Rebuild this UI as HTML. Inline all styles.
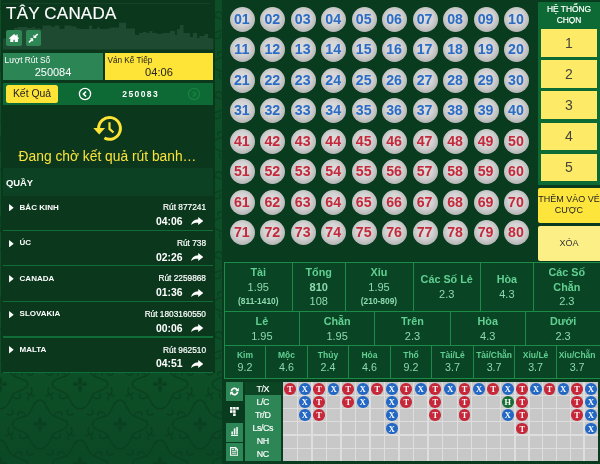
<!DOCTYPE html>
<html><head><meta charset="utf-8"><title>TÂY CANADA</title>
<style>
*{box-sizing:border-box;margin:0;padding:0}
html,body{width:600px;height:464px;overflow:hidden}
body{position:relative;background:#10502a;font-family:"Liberation Sans",Arial,sans-serif;color:#fff}
.abs,.abs *{position:absolute}
#bg{left:0;top:0;width:600px;height:464px;background:linear-gradient(180deg,#0d4e27 0%,#0d4f27 80%,#0b4824 100%)}
#lp{left:1px;top:0;width:213.7px;height:373.4px;background:#0b381d}
#rp{left:222px;top:0;width:378px;height:464px;background:#093b1e}
.t{white-space:nowrap;line-height:1}
.ball{width:25px;height:25px;border-radius:50%;background:radial-gradient(circle at 48% 44%,#dedede 0%,#d3d3d3 40%,#b6b6b6 72%,#999 92%,#8a8a8a 100%);font-weight:bold;font-size:14.2px;text-align:center;line-height:25.2px;letter-spacing:0;text-indent:-1px}
.bl{color:#2a6cc6}.rd{color:#c42a3c}
.yb{background:#fde962;color:#3a3a2a;text-align:center}
.cell{border:1px solid #1d8a48;background:#094524;text-align:center;overflow:hidden}
.cell .t{left:0;width:100%;text-align:center}
.lab{color:#62cf92;font-weight:bold}
.val{color:#8ed9ae}.b{font-weight:bold}
</style></head><body>
<div id="bg" class="abs"></div>
<svg class="abs" style="left:0;top:0;filter:blur(0.4px)" width="600" height="464"><defs><pattern id="dm" width="80" height="80" patternUnits="userSpaceOnUse" x="0" y="64"><g transform="translate(0,0)" fill="none" stroke="#0a3f20" stroke-width="1.6" stroke-linecap="round"><path d="M0-24C7-24 6-12 14-8S30-4 27 2S14 6 12 12S6 25 0 25S-9 18-12 12S-24 8-27 2S-20-6-14-8S-7-24 0-24"/><path d="M-6-28c-4-3-8 1-5 4M6-28c4-3 8 1 5 4M-31 4c-3 4 1 8 4 5M31 4c3 4-1 8-4 5M-7 30c-4 3-8-1-5-4M7 30c4 3 8-1 5-4"/><path d="M14-8c3-6 9-5 8-1M-14-8c-3-6-9-5-8-1M12 12c5 5 10 2 8-2M-12 12c-5 5-10 2-8-2"/><path fill="#0a3f20" stroke="none" d="M0-8C3-4 3-1 0 1.500C-3-1-3-4 0-8zM-1 .5C-5-4-8-1.500-6.500 1.500C-4 3-2.500 2-1 .5zM1 .5C5-4 8-1.500 6.500 1.500C4 3 2.500 2 1 .5zM-1 1.500h2l1.800 3.500l-2 1l.700 2.500h-3l.700-2.500l-2-1z"/></g><g transform="translate(80,0)" fill="none" stroke="#0a3f20" stroke-width="1.6" stroke-linecap="round"><path d="M0-24C7-24 6-12 14-8S30-4 27 2S14 6 12 12S6 25 0 25S-9 18-12 12S-24 8-27 2S-20-6-14-8S-7-24 0-24"/><path d="M-6-28c-4-3-8 1-5 4M6-28c4-3 8 1 5 4M-31 4c-3 4 1 8 4 5M31 4c3 4-1 8-4 5M-7 30c-4 3-8-1-5-4M7 30c4 3 8-1 5-4"/><path d="M14-8c3-6 9-5 8-1M-14-8c-3-6-9-5-8-1M12 12c5 5 10 2 8-2M-12 12c-5 5-10 2-8-2"/><path fill="#0a3f20" stroke="none" d="M0-8C3-4 3-1 0 1.500C-3-1-3-4 0-8zM-1 .5C-5-4-8-1.500-6.500 1.500C-4 3-2.500 2-1 .5zM1 .5C5-4 8-1.500 6.500 1.500C4 3 2.500 2 1 .5zM-1 1.500h2l1.800 3.500l-2 1l.700 2.500h-3l.700-2.500l-2-1z"/></g><g transform="translate(0,80)" fill="none" stroke="#0a3f20" stroke-width="1.6" stroke-linecap="round"><path d="M0-24C7-24 6-12 14-8S30-4 27 2S14 6 12 12S6 25 0 25S-9 18-12 12S-24 8-27 2S-20-6-14-8S-7-24 0-24"/><path d="M-6-28c-4-3-8 1-5 4M6-28c4-3 8 1 5 4M-31 4c-3 4 1 8 4 5M31 4c3 4-1 8-4 5M-7 30c-4 3-8-1-5-4M7 30c4 3 8-1 5-4"/><path d="M14-8c3-6 9-5 8-1M-14-8c-3-6-9-5-8-1M12 12c5 5 10 2 8-2M-12 12c-5 5-10 2-8-2"/><path fill="#0a3f20" stroke="none" d="M0-8C3-4 3-1 0 1.500C-3-1-3-4 0-8zM-1 .5C-5-4-8-1.500-6.500 1.500C-4 3-2.500 2-1 .5zM1 .5C5-4 8-1.500 6.500 1.500C4 3 2.500 2 1 .5zM-1 1.500h2l1.800 3.500l-2 1l.700 2.500h-3l.700-2.500l-2-1z"/></g><g transform="translate(80,80)" fill="none" stroke="#0a3f20" stroke-width="1.6" stroke-linecap="round"><path d="M0-24C7-24 6-12 14-8S30-4 27 2S14 6 12 12S6 25 0 25S-9 18-12 12S-24 8-27 2S-20-6-14-8S-7-24 0-24"/><path d="M-6-28c-4-3-8 1-5 4M6-28c4-3 8 1 5 4M-31 4c-3 4 1 8 4 5M31 4c3 4-1 8-4 5M-7 30c-4 3-8-1-5-4M7 30c4 3 8-1 5-4"/><path d="M14-8c3-6 9-5 8-1M-14-8c-3-6-9-5-8-1M12 12c5 5 10 2 8-2M-12 12c-5 5-10 2-8-2"/><path fill="#0a3f20" stroke="none" d="M0-8C3-4 3-1 0 1.500C-3-1-3-4 0-8zM-1 .5C-5-4-8-1.500-6.500 1.500C-4 3-2.500 2-1 .5zM1 .5C5-4 8-1.500 6.500 1.500C4 3 2.500 2 1 .5zM-1 1.500h2l1.800 3.500l-2 1l.700 2.500h-3l.700-2.500l-2-1z"/></g><g transform="translate(40,40)" fill="none" stroke="#0a3f20" stroke-width="1.6" stroke-linecap="round"><path d="M0-24C7-24 6-12 14-8S30-4 27 2S14 6 12 12S6 25 0 25S-9 18-12 12S-24 8-27 2S-20-6-14-8S-7-24 0-24"/><path d="M-6-28c-4-3-8 1-5 4M6-28c4-3 8 1 5 4M-31 4c-3 4 1 8 4 5M31 4c3 4-1 8-4 5M-7 30c-4 3-8-1-5-4M7 30c4 3 8-1 5-4"/><path d="M14-8c3-6 9-5 8-1M-14-8c-3-6-9-5-8-1M12 12c5 5 10 2 8-2M-12 12c-5 5-10 2-8-2"/><path fill="#0a3f20" stroke="none" d="M0-8C3-4 3-1 0 1.500C-3-1-3-4 0-8zM-1 .5C-5-4-8-1.500-6.500 1.500C-4 3-2.500 2-1 .5zM1 .5C5-4 8-1.500 6.500 1.500C4 3 2.500 2 1 .5zM-1 1.500h2l1.800 3.500l-2 1l.700 2.500h-3l.700-2.500l-2-1z"/></g></pattern></defs><rect x="0" y="0" width="600" height="464" fill="url(#dm)" opacity="0.85"/></svg>
<div id="lp" class="abs"></div>
<div id="rp" class="abs"></div>
<div class="abs" id="all" style="left:0;top:0;width:600px;height:464px;filter:blur(0.35px)">

<div class="t" style="left:6.1px;top:5px;font-size:17px;letter-spacing:0.2px;color:#fff;-webkit-text-stroke:0.15px #fff">TÂY CANADA</div>
<svg style="left:0;top:0;filter:blur(0.5px)" width="216" height="52" viewBox="0 0 216 52"><path fill="#1e4a31" d="M3 49.5V38.5H14V28H17.5V27H21.5V27H24.0V27H27.5V28H32.5V27H35.0V28.5H39.0V28H40.0V29H42.5V25.5H46.5V25.5H51.5V27H54.5V25.5H59.5V29H64.5V25.5H68.5V25.5H71.5V26.5H76.5V28.5H80.0V29H83.0V29H85.5V29H89.0V25.5H92.0V29H97.0V27.5H100.0V29H102.5V29H105.0V29H107.5V28.5H110.0V27.5H119.0V22.7H126.0V28.5H135.0V35H139.0V33H143.0V32H146.5V33H149.5V31H152.5V33H157.5V34H162.5V33H166.0V33H170.0V31H175.0V35H177.0V29H180.0V25H183.5V33H190.0V37H193.0V33H197.0V38H199.5V36H204.5V34H208.0V38H211.0V38.5H213.3V49.5z"/></svg>
<div style="left:3px;top:3.2px;width:207px;height:1px;background:#13442a"></div>
<div style="left:6.05px;top:30.4px;width:15.95px;height:15.4px;background:#2d8654;border-radius:1.8px"></div>
<div style="left:25.6px;top:30.4px;width:15.8px;height:15.4px;background:#2d8654;border-radius:1.8px"></div>
<svg style="left:8.7px;top:33.7px" width="10.2" height="8.4" viewBox="0 0 10.2 8.4"><path fill="#fff" d="M5.1 0L0 4.300l.5.600.8-.6V8.300h3.100V5.700h1.400v2.600h3.100V4.300l.8.600.5-.6L8.700 3V.5H7.400v1.400z"/></svg>
<svg style="left:28px;top:33px" width="11" height="11" viewBox="0 0 11 11"><g fill="#fff" stroke="none"><path d="M5.45 5.05V1.7l3.350 3.350z"/><path d="M5.15 5.35H1.800l3.350 3.350z"/></g><g stroke="#fff" stroke-width="1.6" fill="none"><path d="M6.900 3.600L9.700 1"/><path d="M3.700 6.800L.900 9.300"/></g></svg>
<div style="left:3px;top:53px;width:100px;height:26.5px;background:#2c8555"></div>
<div class="t" style="left:4.6px;top:56.3px;font-size:8.3px;color:#fff">Lượt Rút Số</div>
<div class="t" style="left:3px;top:66.9px;width:100px;text-align:center;font-size:11px;color:#fff">250084</div>
<div style="left:105px;top:53px;width:108px;height:26.5px;background:#fde436"></div>
<div class="t" style="left:107.4px;top:56.5px;font-size:8.25px;color:#222">Ván Kế Tiếp</div>
<div class="t" style="left:105px;top:66.9px;width:108px;text-align:center;font-size:11.1px;color:#222">04:06</div>
<div style="left:3px;top:83px;width:210.3px;height:22px;background:#0d6a34"></div>
<div style="left:6px;top:85.3px;width:52px;height:17.9px;background:#fde436;border-radius:2.5px"></div>
<div class="t" style="left:6px;top:89.2px;width:52px;text-align:center;font-size:10.4px;color:#222">Kết Quả</div>
<svg style="left:78.2px;top:87px" width="14" height="14" viewBox="0 0 14 14"><circle cx="7" cy="7" r="5.6" fill="none" stroke="#fff" stroke-width="1.3"/><path d="M8 4.500L5.500 7l2.500 2.500" fill="none" stroke="#fff" stroke-width="1.7"/></svg>
<svg style="left:187px;top:87px" width="14" height="14" viewBox="0 0 14 14"><circle cx="7" cy="7" r="5.6" fill="none" stroke="#19813f" stroke-width="1.3"/><path d="M6 4.500L8.500 7l-2.500 2.500" fill="none" stroke="#19813f" stroke-width="1.7"/></svg>
<div class="t" style="left:102.7px;top:89.8px;width:76px;text-align:center;font-size:8.5px;font-weight:bold;letter-spacing:1.4px;color:#fff">250083</div>
<svg style="left:90px;top:110px" width="40" height="36" viewBox="0 0 40 36"><g fill="none" stroke="#fde436"><path d="M8.60 18.40A10.9 10.9 0 1 1 14.38 28.02" stroke-width="3"/><path d="M19.5 12.2V18.9l4 3.6" stroke-width="2.2"/></g><path fill="#fde436" d="M3.3 17.9h11.8l-5.9 6.6z"/></svg>
<div class="t" style="left:2px;top:150.3px;width:211px;text-align:center;font-size:13.8px;color:#fbe23a">Đang chờ kết quả rút banh…</div>
<div style="left:3px;top:167.7px;width:210.3px;height:28.4px;background:#0c4223"></div>
<div class="t" style="left:6px;top:178.4px;font-size:9.4px;font-weight:bold;color:#fff">QUẦY</div>
<div style="left:3px;top:229.6px;width:210.3px;height:1.2px;background:#0f6e38"></div>
<svg style="left:9.1px;top:204.0px" width="4.8" height="7.4" viewBox="0 0 5 8"><path fill="#fff" d="M0 0L5 4 0 8z"/></svg>
<div class="t" style="left:19.6px;top:203.6px;font-size:8px;font-weight:bold;color:#fff">BẮC KINH</div>
<div class="t" style="left:100px;top:203.2px;width:106px;text-align:right;font-size:8.3px;color:#fff;-webkit-text-stroke:0.2px #fff">Rút 877241</div>
<div class="t" style="left:100px;top:216.9px;width:82.6px;text-align:right;font-size:10.4px;font-weight:bold;color:#fff">04:06</div>
<svg style="left:191px;top:217.3px" width="12.4" height="8.2" viewBox="0 0 12.4 8.2"><path fill="#fff" d="M7.2 0l5.2 4-5.2 4V5.7C4.2 5.6 1.8 6.2 0 8.1c.6-3.3 3-5.5 7.2-5.8z"/></svg>
<div style="left:3px;top:265.2px;width:210.3px;height:1.2px;background:#0f6e38"></div>
<svg style="left:9.1px;top:239.6px" width="4.8" height="7.4" viewBox="0 0 5 8"><path fill="#fff" d="M0 0L5 4 0 8z"/></svg>
<div class="t" style="left:19.6px;top:239.2px;font-size:8px;font-weight:bold;color:#fff">ÚC</div>
<div class="t" style="left:100px;top:238.8px;width:106px;text-align:right;font-size:8.3px;color:#fff;-webkit-text-stroke:0.2px #fff">Rút 738</div>
<div class="t" style="left:100px;top:252.5px;width:82.6px;text-align:right;font-size:10.4px;font-weight:bold;color:#fff">02:26</div>
<svg style="left:191px;top:252.9px" width="12.4" height="8.2" viewBox="0 0 12.4 8.2"><path fill="#fff" d="M7.2 0l5.2 4-5.2 4V5.7C4.2 5.6 1.8 6.2 0 8.1c.6-3.3 3-5.5 7.2-5.8z"/></svg>
<div style="left:3px;top:300.8px;width:210.3px;height:1.2px;background:#0f6e38"></div>
<svg style="left:9.1px;top:275.2px" width="4.8" height="7.4" viewBox="0 0 5 8"><path fill="#fff" d="M0 0L5 4 0 8z"/></svg>
<div class="t" style="left:19.6px;top:274.8px;font-size:8px;font-weight:bold;color:#fff">CANADA</div>
<div class="t" style="left:100px;top:274.4px;width:106px;text-align:right;font-size:8.3px;color:#fff;-webkit-text-stroke:0.2px #fff">Rút 2259868</div>
<div class="t" style="left:100px;top:288.1px;width:82.6px;text-align:right;font-size:10.4px;font-weight:bold;color:#fff">01:36</div>
<svg style="left:191px;top:288.5px" width="12.4" height="8.2" viewBox="0 0 12.4 8.2"><path fill="#fff" d="M7.2 0l5.2 4-5.2 4V5.7C4.2 5.6 1.8 6.2 0 8.1c.6-3.3 3-5.5 7.2-5.8z"/></svg>
<div style="left:3px;top:336.4px;width:210.3px;height:1.2px;background:#0f6e38"></div>
<svg style="left:9.1px;top:310.8px" width="4.8" height="7.4" viewBox="0 0 5 8"><path fill="#fff" d="M0 0L5 4 0 8z"/></svg>
<div class="t" style="left:19.6px;top:310.4px;font-size:8px;font-weight:bold;color:#fff">SLOVAKIA</div>
<div class="t" style="left:100px;top:310.0px;width:106px;text-align:right;font-size:8.3px;color:#fff;-webkit-text-stroke:0.2px #fff">Rút 1803160550</div>
<div class="t" style="left:100px;top:323.7px;width:82.6px;text-align:right;font-size:10.4px;font-weight:bold;color:#fff">00:06</div>
<svg style="left:191px;top:324.1px" width="12.4" height="8.2" viewBox="0 0 12.4 8.2"><path fill="#fff" d="M7.2 0l5.2 4-5.2 4V5.7C4.2 5.6 1.8 6.2 0 8.1c.6-3.3 3-5.5 7.2-5.8z"/></svg>
<div style="left:3px;top:372.0px;width:210.3px;height:1.2px;background:#0f6e38"></div>
<svg style="left:9.1px;top:346.4px" width="4.8" height="7.4" viewBox="0 0 5 8"><path fill="#fff" d="M0 0L5 4 0 8z"/></svg>
<div class="t" style="left:19.6px;top:346.0px;font-size:8px;font-weight:bold;color:#fff">MALTA</div>
<div class="t" style="left:100px;top:345.6px;width:106px;text-align:right;font-size:8.3px;color:#fff;-webkit-text-stroke:0.2px #fff">Rút 962510</div>
<div class="t" style="left:100px;top:359.3px;width:82.6px;text-align:right;font-size:10.4px;font-weight:bold;color:#fff">04:51</div>
<svg style="left:191px;top:359.7px" width="12.4" height="8.2" viewBox="0 0 12.4 8.2"><path fill="#fff" d="M7.2 0l5.2 4-5.2 4V5.7C4.2 5.6 1.8 6.2 0 8.1c.6-3.3 3-5.5 7.2-5.8z"/></svg>
<div class="ball bl" style="left:229.8px;top:6.7px">01</div>
<div class="ball bl" style="left:260.3px;top:6.7px">02</div>
<div class="ball bl" style="left:290.7px;top:6.7px">03</div>
<div class="ball bl" style="left:321.2px;top:6.7px">04</div>
<div class="ball bl" style="left:351.7px;top:6.7px">05</div>
<div class="ball bl" style="left:382.1px;top:6.7px">06</div>
<div class="ball bl" style="left:412.6px;top:6.7px">07</div>
<div class="ball bl" style="left:443.1px;top:6.7px">08</div>
<div class="ball bl" style="left:473.6px;top:6.7px">09</div>
<div class="ball bl" style="left:504.0px;top:6.7px">10</div>
<div class="ball bl" style="left:229.8px;top:37.2px">11</div>
<div class="ball bl" style="left:260.3px;top:37.2px">12</div>
<div class="ball bl" style="left:290.7px;top:37.2px">13</div>
<div class="ball bl" style="left:321.2px;top:37.2px">14</div>
<div class="ball bl" style="left:351.7px;top:37.2px">15</div>
<div class="ball bl" style="left:382.1px;top:37.2px">16</div>
<div class="ball bl" style="left:412.6px;top:37.2px">17</div>
<div class="ball bl" style="left:443.1px;top:37.2px">18</div>
<div class="ball bl" style="left:473.6px;top:37.2px">19</div>
<div class="ball bl" style="left:504.0px;top:37.2px">20</div>
<div class="ball bl" style="left:229.8px;top:67.7px">21</div>
<div class="ball bl" style="left:260.3px;top:67.7px">22</div>
<div class="ball bl" style="left:290.7px;top:67.7px">23</div>
<div class="ball bl" style="left:321.2px;top:67.7px">24</div>
<div class="ball bl" style="left:351.7px;top:67.7px">25</div>
<div class="ball bl" style="left:382.1px;top:67.7px">26</div>
<div class="ball bl" style="left:412.6px;top:67.7px">27</div>
<div class="ball bl" style="left:443.1px;top:67.7px">28</div>
<div class="ball bl" style="left:473.6px;top:67.7px">29</div>
<div class="ball bl" style="left:504.0px;top:67.7px">30</div>
<div class="ball bl" style="left:229.8px;top:98.2px">31</div>
<div class="ball bl" style="left:260.3px;top:98.2px">32</div>
<div class="ball bl" style="left:290.7px;top:98.2px">33</div>
<div class="ball bl" style="left:321.2px;top:98.2px">34</div>
<div class="ball bl" style="left:351.7px;top:98.2px">35</div>
<div class="ball bl" style="left:382.1px;top:98.2px">36</div>
<div class="ball bl" style="left:412.6px;top:98.2px">37</div>
<div class="ball bl" style="left:443.1px;top:98.2px">38</div>
<div class="ball bl" style="left:473.6px;top:98.2px">39</div>
<div class="ball bl" style="left:504.0px;top:98.2px">40</div>
<div class="ball rd" style="left:229.8px;top:128.7px">41</div>
<div class="ball rd" style="left:260.3px;top:128.7px">42</div>
<div class="ball rd" style="left:290.7px;top:128.7px">43</div>
<div class="ball rd" style="left:321.2px;top:128.7px">44</div>
<div class="ball rd" style="left:351.7px;top:128.7px">45</div>
<div class="ball rd" style="left:382.1px;top:128.7px">46</div>
<div class="ball rd" style="left:412.6px;top:128.7px">47</div>
<div class="ball rd" style="left:443.1px;top:128.7px">48</div>
<div class="ball rd" style="left:473.6px;top:128.7px">49</div>
<div class="ball rd" style="left:504.0px;top:128.7px">50</div>
<div class="ball rd" style="left:229.8px;top:159.2px">51</div>
<div class="ball rd" style="left:260.3px;top:159.2px">52</div>
<div class="ball rd" style="left:290.7px;top:159.2px">53</div>
<div class="ball rd" style="left:321.2px;top:159.2px">54</div>
<div class="ball rd" style="left:351.7px;top:159.2px">55</div>
<div class="ball rd" style="left:382.1px;top:159.2px">56</div>
<div class="ball rd" style="left:412.6px;top:159.2px">57</div>
<div class="ball rd" style="left:443.1px;top:159.2px">58</div>
<div class="ball rd" style="left:473.6px;top:159.2px">59</div>
<div class="ball rd" style="left:504.0px;top:159.2px">60</div>
<div class="ball rd" style="left:229.8px;top:189.7px">61</div>
<div class="ball rd" style="left:260.3px;top:189.7px">62</div>
<div class="ball rd" style="left:290.7px;top:189.7px">63</div>
<div class="ball rd" style="left:321.2px;top:189.7px">64</div>
<div class="ball rd" style="left:351.7px;top:189.7px">65</div>
<div class="ball rd" style="left:382.1px;top:189.7px">66</div>
<div class="ball rd" style="left:412.6px;top:189.7px">67</div>
<div class="ball rd" style="left:443.1px;top:189.7px">68</div>
<div class="ball rd" style="left:473.6px;top:189.7px">69</div>
<div class="ball rd" style="left:504.0px;top:189.7px">70</div>
<div class="ball rd" style="left:229.8px;top:220.2px">71</div>
<div class="ball rd" style="left:260.3px;top:220.2px">72</div>
<div class="ball rd" style="left:290.7px;top:220.2px">73</div>
<div class="ball rd" style="left:321.2px;top:220.2px">74</div>
<div class="ball rd" style="left:351.7px;top:220.2px">75</div>
<div class="ball rd" style="left:382.1px;top:220.2px">76</div>
<div class="ball rd" style="left:412.6px;top:220.2px">77</div>
<div class="ball rd" style="left:443.1px;top:220.2px">78</div>
<div class="ball rd" style="left:473.6px;top:220.2px">79</div>
<div class="ball rd" style="left:504.0px;top:220.2px">80</div>
<div style="left:538px;top:1.5px;width:72px;height:183.5px;background:#0d6a35"></div>
<div class="t" style="left:538px;top:5.3px;width:62px;text-align:center;font-size:8.4px;color:#fff;-webkit-text-stroke:0.2px #fff">HỆ THỐNG</div>
<div class="t" style="left:538px;top:15.8px;width:62px;text-align:center;font-size:8.4px;color:#fff;-webkit-text-stroke:0.2px #fff">CHỌN</div>
<div class="yb" style="left:540.8px;top:29.2px;width:56.4px;height:27.5px;background:#fdea66"></div>
<div class="t" style="left:540.8px;top:35.8px;width:56.4px;text-align:center;font-size:14px;color:#45453a">1</div>
<div class="yb" style="left:540.8px;top:60.3px;width:56.4px;height:27.5px;background:#fdea66"></div>
<div class="t" style="left:540.8px;top:66.9px;width:56.4px;text-align:center;font-size:14px;color:#45453a">2</div>
<div class="yb" style="left:540.8px;top:91.4px;width:56.4px;height:27.5px;background:#fdea66"></div>
<div class="t" style="left:540.8px;top:98.0px;width:56.4px;text-align:center;font-size:14px;color:#45453a">3</div>
<div class="yb" style="left:540.8px;top:122.5px;width:56.4px;height:27.5px;background:#fdea66"></div>
<div class="t" style="left:540.8px;top:129.1px;width:56.4px;text-align:center;font-size:14px;color:#45453a">4</div>
<div class="yb" style="left:540.8px;top:153.6px;width:56.4px;height:27.5px;background:#fdea66"></div>
<div class="t" style="left:540.8px;top:160.2px;width:56.4px;text-align:center;font-size:14px;color:#45453a">5</div>
<div style="left:537.8px;top:188.2px;width:72px;height:35px;background:#fde53c;border-radius:2px 0 0 2px"></div>
<div class="t" style="left:533px;top:195.2px;width:72px;text-align:center;font-size:9px;color:#222">THÊM VÀO VÉ</div>
<div class="t" style="left:537.8px;top:205.9px;width:62.2px;text-align:center;font-size:9px;color:#222">CƯỢC</div>
<div style="left:537.8px;top:226.4px;width:72px;height:34.6px;background:#fbef86;border-radius:2px 0 0 2px"></div>
<div class="t" style="left:537.8px;top:238.6px;width:62.2px;text-align:center;font-size:9px;color:#333">XÓA</div>
<div class="cell" style="left:223.85px;top:262.15px;width:69.50px;height:49.90px;border-width:1.3px">
<div class="t lab" style="top:4.3px;width:66.90px;font-size:10.8px">Tài</div>
<div class="t val" style="top:18.7px;width:66.90px;font-size:11px">1.95</div>
<div class="t val b" style="top:33.5px;width:66.90px;font-size:8.4px">(811-1410)</div>
</div>
<div class="cell" style="left:292.05px;top:262.15px;width:53.90px;height:49.90px;border-width:1.3px">
<div class="t lab" style="top:4.3px;width:51.30px;font-size:10.8px">Tổng</div>
<div class="t val b" style="top:18.7px;width:51.30px;font-size:11px">810</div>
<div class="t val" style="top:32.7px;width:51.30px;font-size:11px">108</div>
</div>
<div class="cell" style="left:344.65px;top:262.15px;width:69.30px;height:49.90px;border-width:1.3px">
<div class="t lab" style="top:4.3px;width:66.70px;font-size:10.8px">Xỉu</div>
<div class="t val" style="top:18.7px;width:66.70px;font-size:11px">1.95</div>
<div class="t val b" style="top:33.5px;width:66.70px;font-size:8.4px">(210-809)</div>
</div>
<div class="cell" style="left:412.65px;top:262.15px;width:68.70px;height:49.90px;border-width:1.3px">
<div class="t lab" style="top:11.3px;width:66.10px;font-size:10.8px">Các Số Lẻ</div>
<div class="t val" style="top:25.7px;width:66.10px;font-size:11px">2.3</div>
</div>
<div class="cell" style="left:480.05px;top:262.15px;width:54.30px;height:49.90px;border-width:1.3px">
<div class="t lab" style="top:11.3px;width:51.70px;font-size:10.8px">Hòa</div>
<div class="t val" style="top:25.7px;width:51.70px;font-size:11px">4.3</div>
</div>
<div class="cell" style="left:533.05px;top:262.15px;width:76.20px;height:49.90px;border-width:1.3px">
<div class="t lab" style="top:4.3px;width:65.60px;font-size:10.8px">Các Số</div>
<div class="t lab" style="top:18.4px;width:65.60px;font-size:10.8px">Chẵn</div>
<div class="t val" style="top:32.7px;width:65.60px;font-size:11px">2.3</div>
</div>
<div class="cell" style="left:223.85px;top:310.75px;width:76.60px;height:35.80px;border-width:1.3px">
<div class="t lab" style="top:4.6px;width:74.00px;font-size:10.8px">Lẻ</div>
<div class="t val" style="top:19.5px;width:74.00px;font-size:11px">1.95</div>
</div>
<div class="cell" style="left:299.15px;top:310.75px;width:76.60px;height:35.80px;border-width:1.3px">
<div class="t lab" style="top:4.6px;width:74.00px;font-size:10.8px">Chẵn</div>
<div class="t val" style="top:19.5px;width:74.00px;font-size:11px">1.95</div>
</div>
<div class="cell" style="left:374.45px;top:310.75px;width:76.60px;height:35.80px;border-width:1.3px">
<div class="t lab" style="top:4.6px;width:74.00px;font-size:10.8px">Trên</div>
<div class="t val" style="top:19.5px;width:74.00px;font-size:11px">2.3</div>
</div>
<div class="cell" style="left:449.75px;top:310.75px;width:76.60px;height:35.80px;border-width:1.3px">
<div class="t lab" style="top:4.6px;width:74.00px;font-size:10.8px">Hòa</div>
<div class="t val" style="top:19.5px;width:74.00px;font-size:11px">4.3</div>
</div>
<div class="cell" style="left:525.05px;top:310.75px;width:84.60px;height:35.80px;border-width:1.3px">
<div class="t lab" style="top:4.6px;width:74.00px;font-size:10.8px">Dưới</div>
<div class="t val" style="top:19.5px;width:74.00px;font-size:11px">2.3</div>
</div>
<div class="cell" style="left:223.85px;top:345.25px;width:42.82px;height:33.90px;border-width:1.3px">
<div class="t lab" style="top:5.0px;width:40.22px;font-size:8.5px">Kim</div>
<div class="t val" style="top:15.8px;width:40.22px;font-size:10.7px">9.2</div>
</div>
<div class="cell" style="left:265.37px;top:345.25px;width:42.82px;height:33.90px;border-width:1.3px">
<div class="t lab" style="top:5.0px;width:40.22px;font-size:8.5px">Mộc</div>
<div class="t val" style="top:15.8px;width:40.22px;font-size:10.7px">4.6</div>
</div>
<div class="cell" style="left:306.89px;top:345.25px;width:42.82px;height:33.90px;border-width:1.3px">
<div class="t lab" style="top:5.0px;width:40.22px;font-size:8.5px">Thủy</div>
<div class="t val" style="top:15.8px;width:40.22px;font-size:10.7px">2.4</div>
</div>
<div class="cell" style="left:348.41px;top:345.25px;width:42.82px;height:33.90px;border-width:1.3px">
<div class="t lab" style="top:5.0px;width:40.22px;font-size:8.5px">Hỏa</div>
<div class="t val" style="top:15.8px;width:40.22px;font-size:10.7px">4.6</div>
</div>
<div class="cell" style="left:389.93px;top:345.25px;width:42.82px;height:33.90px;border-width:1.3px">
<div class="t lab" style="top:5.0px;width:40.22px;font-size:8.5px">Thổ</div>
<div class="t val" style="top:15.8px;width:40.22px;font-size:10.7px">9.2</div>
</div>
<div class="cell" style="left:431.45px;top:345.25px;width:42.82px;height:33.90px;border-width:1.3px">
<div class="t lab" style="top:5.0px;width:40.22px;font-size:8.5px">Tài/Lẻ</div>
<div class="t val" style="top:15.8px;width:40.22px;font-size:10.7px">3.7</div>
</div>
<div class="cell" style="left:472.97px;top:345.25px;width:42.82px;height:33.90px;border-width:1.3px">
<div class="t lab" style="top:5.0px;width:40.22px;font-size:8.5px">Tài/Chẵn</div>
<div class="t val" style="top:15.8px;width:40.22px;font-size:10.7px">3.7</div>
</div>
<div class="cell" style="left:514.49px;top:345.25px;width:42.82px;height:33.90px;border-width:1.3px">
<div class="t lab" style="top:5.0px;width:40.22px;font-size:8.5px">Xỉu/Lẻ</div>
<div class="t val" style="top:15.8px;width:40.22px;font-size:10.7px">3.7</div>
</div>
<div class="cell" style="left:556.01px;top:345.25px;width:50.82px;height:33.90px;border-width:1.3px">
<div class="t lab" style="top:5.0px;width:40.22px;font-size:8.5px">Xỉu/Chẵn</div>
<div class="t val" style="top:15.8px;width:40.22px;font-size:10.7px">3.7</div>
</div>
<div style="left:226.1px;top:382.4px;width:16.9px;height:19.0px;background:#2c8655"></div>
<div style="left:226.1px;top:401.4px;width:16.9px;height:21.2px;background:#093b1e"></div>
<div style="left:226.1px;top:422.6px;width:16.9px;height:19.6px;background:#2c8655"></div>
<div style="left:226.1px;top:442.7px;width:16.9px;height:18.7px;background:#2c8655"></div>
<svg style="left:229.8px;top:386.9px" width="9" height="9" viewBox="0 0 10 10"><g fill="none" stroke="#fff" stroke-width="1.9"><path d="M1.53 4.51A3.5 3.5 0 0 1 7.87 2.99"/><path d="M8.47 5.49A3.5 3.5 0 0 1 2.13 7.01"/></g><path fill="#fff" d="M9.800 .8v3.900H5.900zM.2 9.200V5.300h3.900z"/></svg>
<svg style="left:230px;top:406.8px" width="8.8" height="9.2" viewBox="0 0 9 9.4"><g fill="#fff"><rect x="0" y="0" width="2.6" height="2.7"/><rect x="3.2" y="0" width="2.6" height="2.7"/><rect x="6.4" y="0" width="2.6" height="2.7"/><rect x="0" y="3.3" width="2.6" height="2.7"/><rect x="3.2" y="3.3" width="2.6" height="2.7"/><rect x="3.2" y="6.6" width="2.6" height="2.7"/></g></svg>
<svg style="left:230.8px;top:426.8px" width="7.2" height="9.2" viewBox="0 0 7.2 9.2"><g fill="#fff"><rect x="0" y="8.1" width="7.2" height="1.1"/><rect x="0.4" y="4.400" width="1.5" height="3.200"/><rect x="2.8" y="1.400" width="1.6" height="6.200"/><rect x="5.3" y="0" width="1.5" height="7.600"/></g></svg>
<svg style="left:229.9px;top:447.1px" width="8.4" height="8.8" viewBox="0 0 8.4 8.8"><path fill="none" stroke="#fff" stroke-width="1.1" d="M.6.6h5l2.2 2.2v5.4H.6z"/><path fill="none" stroke="#fff" stroke-width=".9" d="M5.4.6v2.4h2.4"/><path stroke="#fff" stroke-width=".9" d="M2 2.4h2M2 4.3h4.4M2 6.2h4.4"/></svg>
<div style="left:245px;top:382.4px;width:35.9px;height:12.9px;background:#0b4524"></div>
<div style="left:245px;top:395.3px;width:35.9px;height:66.1px;background:#2c8655"></div>
<div class="t" style="left:245px;top:384.6px;width:35.9px;text-align:center;font-size:8.9px;letter-spacing:-0.4px;text-indent:-0.4px;color:#fff;-webkit-text-stroke:0.15px #fff">T/X</div>
<div class="t" style="left:245px;top:397.7px;width:35.9px;text-align:center;font-size:8.9px;letter-spacing:-0.4px;text-indent:-0.4px;color:#fff;-webkit-text-stroke:0.15px #fff">L/C</div>
<div class="t" style="left:245px;top:410.8px;width:35.9px;text-align:center;font-size:8.9px;letter-spacing:-0.4px;text-indent:-0.4px;color:#fff;-webkit-text-stroke:0.15px #fff">Tr/D</div>
<div class="t" style="left:245px;top:423.9px;width:35.9px;text-align:center;font-size:8.9px;letter-spacing:-0.4px;text-indent:-0.4px;color:#fff;-webkit-text-stroke:0.15px #fff">Ls/Cs</div>
<div class="t" style="left:245px;top:437.0px;width:35.9px;text-align:center;font-size:8.9px;letter-spacing:-0.4px;text-indent:-0.4px;color:#fff;-webkit-text-stroke:0.15px #fff">NH</div>
<div class="t" style="left:245px;top:450.1px;width:35.9px;text-align:center;font-size:8.9px;letter-spacing:-0.4px;text-indent:-0.4px;color:#fff;-webkit-text-stroke:0.15px #fff">NC</div>
<div style="left:283.1px;top:382.1px;width:315.2px;height:79.3px;background:#c8c8c8"></div>
<div style="left:296.70px;top:382.1px;width:1.3px;height:79.3px;background:#dedede"></div>
<div style="left:311.25px;top:382.1px;width:1.3px;height:79.3px;background:#dedede"></div>
<div style="left:325.73px;top:382.1px;width:1.3px;height:79.3px;background:#dedede"></div>
<div style="left:340.33px;top:382.1px;width:1.3px;height:79.3px;background:#dedede"></div>
<div style="left:354.85px;top:382.1px;width:1.3px;height:79.3px;background:#dedede"></div>
<div style="left:369.30px;top:382.1px;width:1.3px;height:79.3px;background:#dedede"></div>
<div style="left:383.80px;top:382.1px;width:1.3px;height:79.3px;background:#dedede"></div>
<div style="left:398.30px;top:382.1px;width:1.3px;height:79.3px;background:#dedede"></div>
<div style="left:412.85px;top:382.1px;width:1.3px;height:79.3px;background:#dedede"></div>
<div style="left:427.40px;top:382.1px;width:1.3px;height:79.3px;background:#dedede"></div>
<div style="left:442.10px;top:382.1px;width:1.3px;height:79.3px;background:#dedede"></div>
<div style="left:456.75px;top:382.1px;width:1.3px;height:79.3px;background:#dedede"></div>
<div style="left:471.15px;top:382.1px;width:1.3px;height:79.3px;background:#dedede"></div>
<div style="left:485.50px;top:382.1px;width:1.3px;height:79.3px;background:#dedede"></div>
<div style="left:499.90px;top:382.1px;width:1.3px;height:79.3px;background:#dedede"></div>
<div style="left:514.35px;top:382.1px;width:1.3px;height:79.3px;background:#dedede"></div>
<div style="left:528.40px;top:382.1px;width:1.3px;height:79.3px;background:#dedede"></div>
<div style="left:542.12px;top:382.1px;width:1.3px;height:79.3px;background:#dedede"></div>
<div style="left:555.85px;top:382.1px;width:1.3px;height:79.3px;background:#dedede"></div>
<div style="left:569.58px;top:382.1px;width:1.3px;height:79.3px;background:#dedede"></div>
<div style="left:583.45px;top:382.1px;width:1.3px;height:79.3px;background:#dedede"></div>
<div style="left:283.1px;top:394.67px;width:315.2px;height:1.3px;background:#dedede"></div>
<div style="left:283.1px;top:407.88px;width:315.2px;height:1.3px;background:#dedede"></div>
<div style="left:283.1px;top:421.10px;width:315.2px;height:1.3px;background:#dedede"></div>
<div style="left:283.1px;top:434.32px;width:315.2px;height:1.3px;background:#dedede"></div>
<div style="left:283.1px;top:447.53px;width:315.2px;height:1.3px;background:#dedede"></div>
<div class="t" style="left:284.15px;top:383.05px;width:11.7px;height:11.7px;border-radius:50%;background:#c6283a;color:#fff;font-family:'Liberation Serif',serif;font-weight:bold;font-size:8.3px;line-height:14.4px;text-align:center">T</div>
<div class="t" style="left:298.85px;top:383.05px;width:11.7px;height:11.7px;border-radius:50%;background:#2468c6;color:#fff;font-family:'Liberation Serif',serif;font-weight:bold;font-size:8.3px;line-height:14.4px;text-align:center">X</div>
<div class="t" style="left:298.85px;top:396.27px;width:11.7px;height:11.7px;border-radius:50%;background:#2468c6;color:#fff;font-family:'Liberation Serif',serif;font-weight:bold;font-size:8.3px;line-height:14.4px;text-align:center">X</div>
<div class="t" style="left:298.85px;top:409.48px;width:11.7px;height:11.7px;border-radius:50%;background:#2468c6;color:#fff;font-family:'Liberation Serif',serif;font-weight:bold;font-size:8.3px;line-height:14.4px;text-align:center">X</div>
<div class="t" style="left:313.25px;top:383.05px;width:11.7px;height:11.7px;border-radius:50%;background:#c6283a;color:#fff;font-family:'Liberation Serif',serif;font-weight:bold;font-size:8.3px;line-height:14.4px;text-align:center">T</div>
<div class="t" style="left:313.25px;top:396.27px;width:11.7px;height:11.7px;border-radius:50%;background:#c6283a;color:#fff;font-family:'Liberation Serif',serif;font-weight:bold;font-size:8.3px;line-height:14.4px;text-align:center">T</div>
<div class="t" style="left:313.25px;top:409.48px;width:11.7px;height:11.7px;border-radius:50%;background:#c6283a;color:#fff;font-family:'Liberation Serif',serif;font-weight:bold;font-size:8.3px;line-height:14.4px;text-align:center">T</div>
<div class="t" style="left:327.80px;top:383.05px;width:11.7px;height:11.7px;border-radius:50%;background:#2468c6;color:#fff;font-family:'Liberation Serif',serif;font-weight:bold;font-size:8.3px;line-height:14.4px;text-align:center">X</div>
<div class="t" style="left:342.45px;top:383.05px;width:11.7px;height:11.7px;border-radius:50%;background:#c6283a;color:#fff;font-family:'Liberation Serif',serif;font-weight:bold;font-size:8.3px;line-height:14.4px;text-align:center">T</div>
<div class="t" style="left:342.45px;top:396.27px;width:11.7px;height:11.7px;border-radius:50%;background:#c6283a;color:#fff;font-family:'Liberation Serif',serif;font-weight:bold;font-size:8.3px;line-height:14.4px;text-align:center">T</div>
<div class="t" style="left:356.85px;top:383.05px;width:11.7px;height:11.7px;border-radius:50%;background:#2468c6;color:#fff;font-family:'Liberation Serif',serif;font-weight:bold;font-size:8.3px;line-height:14.4px;text-align:center">X</div>
<div class="t" style="left:356.85px;top:396.27px;width:11.7px;height:11.7px;border-radius:50%;background:#2468c6;color:#fff;font-family:'Liberation Serif',serif;font-weight:bold;font-size:8.3px;line-height:14.4px;text-align:center">X</div>
<div class="t" style="left:371.35px;top:383.05px;width:11.7px;height:11.7px;border-radius:50%;background:#c6283a;color:#fff;font-family:'Liberation Serif',serif;font-weight:bold;font-size:8.3px;line-height:14.4px;text-align:center">T</div>
<div class="t" style="left:385.85px;top:383.05px;width:11.7px;height:11.7px;border-radius:50%;background:#2468c6;color:#fff;font-family:'Liberation Serif',serif;font-weight:bold;font-size:8.3px;line-height:14.4px;text-align:center">X</div>
<div class="t" style="left:385.85px;top:396.27px;width:11.7px;height:11.7px;border-radius:50%;background:#2468c6;color:#fff;font-family:'Liberation Serif',serif;font-weight:bold;font-size:8.3px;line-height:14.4px;text-align:center">X</div>
<div class="t" style="left:385.85px;top:409.48px;width:11.7px;height:11.7px;border-radius:50%;background:#2468c6;color:#fff;font-family:'Liberation Serif',serif;font-weight:bold;font-size:8.3px;line-height:14.4px;text-align:center">X</div>
<div class="t" style="left:385.85px;top:422.70px;width:11.7px;height:11.7px;border-radius:50%;background:#2468c6;color:#fff;font-family:'Liberation Serif',serif;font-weight:bold;font-size:8.3px;line-height:14.4px;text-align:center">X</div>
<div class="t" style="left:400.35px;top:383.05px;width:11.7px;height:11.7px;border-radius:50%;background:#c6283a;color:#fff;font-family:'Liberation Serif',serif;font-weight:bold;font-size:8.3px;line-height:14.4px;text-align:center">T</div>
<div class="t" style="left:400.35px;top:396.27px;width:11.7px;height:11.7px;border-radius:50%;background:#c6283a;color:#fff;font-family:'Liberation Serif',serif;font-weight:bold;font-size:8.3px;line-height:14.4px;text-align:center">T</div>
<div class="t" style="left:414.95px;top:383.05px;width:11.7px;height:11.7px;border-radius:50%;background:#2468c6;color:#fff;font-family:'Liberation Serif',serif;font-weight:bold;font-size:8.3px;line-height:14.4px;text-align:center">X</div>
<div class="t" style="left:429.45px;top:383.05px;width:11.7px;height:11.7px;border-radius:50%;background:#c6283a;color:#fff;font-family:'Liberation Serif',serif;font-weight:bold;font-size:8.3px;line-height:14.4px;text-align:center">T</div>
<div class="t" style="left:429.45px;top:396.27px;width:11.7px;height:11.7px;border-radius:50%;background:#c6283a;color:#fff;font-family:'Liberation Serif',serif;font-weight:bold;font-size:8.3px;line-height:14.4px;text-align:center">T</div>
<div class="t" style="left:429.45px;top:409.48px;width:11.7px;height:11.7px;border-radius:50%;background:#c6283a;color:#fff;font-family:'Liberation Serif',serif;font-weight:bold;font-size:8.3px;line-height:14.4px;text-align:center">T</div>
<div class="t" style="left:444.35px;top:383.05px;width:11.7px;height:11.7px;border-radius:50%;background:#2468c6;color:#fff;font-family:'Liberation Serif',serif;font-weight:bold;font-size:8.3px;line-height:14.4px;text-align:center">X</div>
<div class="t" style="left:458.75px;top:383.05px;width:11.7px;height:11.7px;border-radius:50%;background:#c6283a;color:#fff;font-family:'Liberation Serif',serif;font-weight:bold;font-size:8.3px;line-height:14.4px;text-align:center">T</div>
<div class="t" style="left:458.75px;top:396.27px;width:11.7px;height:11.7px;border-radius:50%;background:#c6283a;color:#fff;font-family:'Liberation Serif',serif;font-weight:bold;font-size:8.3px;line-height:14.4px;text-align:center">T</div>
<div class="t" style="left:458.75px;top:409.48px;width:11.7px;height:11.7px;border-radius:50%;background:#c6283a;color:#fff;font-family:'Liberation Serif',serif;font-weight:bold;font-size:8.3px;line-height:14.4px;text-align:center">T</div>
<div class="t" style="left:473.15px;top:383.05px;width:11.7px;height:11.7px;border-radius:50%;background:#2468c6;color:#fff;font-family:'Liberation Serif',serif;font-weight:bold;font-size:8.3px;line-height:14.4px;text-align:center">X</div>
<div class="t" style="left:487.45px;top:383.05px;width:11.7px;height:11.7px;border-radius:50%;background:#c6283a;color:#fff;font-family:'Liberation Serif',serif;font-weight:bold;font-size:8.3px;line-height:14.4px;text-align:center">T</div>
<div class="t" style="left:501.95px;top:383.05px;width:11.7px;height:11.7px;border-radius:50%;background:#2468c6;color:#fff;font-family:'Liberation Serif',serif;font-weight:bold;font-size:8.3px;line-height:14.4px;text-align:center">X</div>
<div class="t" style="left:501.95px;top:396.27px;width:11.7px;height:11.7px;border-radius:50%;background:#1a6e35;color:#fff;font-family:'Liberation Serif',serif;font-weight:bold;font-size:8.3px;line-height:14.4px;text-align:center">H</div>
<div class="t" style="left:501.95px;top:409.48px;width:11.7px;height:11.7px;border-radius:50%;background:#2468c6;color:#fff;font-family:'Liberation Serif',serif;font-weight:bold;font-size:8.3px;line-height:14.4px;text-align:center">X</div>
<div class="t" style="left:516.35px;top:383.05px;width:11.7px;height:11.7px;border-radius:50%;background:#c6283a;color:#fff;font-family:'Liberation Serif',serif;font-weight:bold;font-size:8.3px;line-height:14.4px;text-align:center">T</div>
<div class="t" style="left:516.35px;top:396.27px;width:11.7px;height:11.7px;border-radius:50%;background:#c6283a;color:#fff;font-family:'Liberation Serif',serif;font-weight:bold;font-size:8.3px;line-height:14.4px;text-align:center">T</div>
<div class="t" style="left:516.35px;top:409.48px;width:11.7px;height:11.7px;border-radius:50%;background:#c6283a;color:#fff;font-family:'Liberation Serif',serif;font-weight:bold;font-size:8.3px;line-height:14.4px;text-align:center">T</div>
<div class="t" style="left:516.35px;top:422.70px;width:11.7px;height:11.7px;border-radius:50%;background:#c6283a;color:#fff;font-family:'Liberation Serif',serif;font-weight:bold;font-size:8.3px;line-height:14.4px;text-align:center">T</div>
<div class="t" style="left:530.05px;top:383.05px;width:11.7px;height:11.7px;border-radius:50%;background:#2468c6;color:#fff;font-family:'Liberation Serif',serif;font-weight:bold;font-size:8.3px;line-height:14.4px;text-align:center">X</div>
<div class="t" style="left:543.80px;top:383.05px;width:11.7px;height:11.7px;border-radius:50%;background:#c6283a;color:#fff;font-family:'Liberation Serif',serif;font-weight:bold;font-size:8.3px;line-height:14.4px;text-align:center">T</div>
<div class="t" style="left:557.50px;top:383.05px;width:11.7px;height:11.7px;border-radius:50%;background:#2468c6;color:#fff;font-family:'Liberation Serif',serif;font-weight:bold;font-size:8.3px;line-height:14.4px;text-align:center">X</div>
<div class="t" style="left:571.25px;top:383.05px;width:11.7px;height:11.7px;border-radius:50%;background:#c6283a;color:#fff;font-family:'Liberation Serif',serif;font-weight:bold;font-size:8.3px;line-height:14.4px;text-align:center">T</div>
<div class="t" style="left:571.25px;top:396.27px;width:11.7px;height:11.7px;border-radius:50%;background:#c6283a;color:#fff;font-family:'Liberation Serif',serif;font-weight:bold;font-size:8.3px;line-height:14.4px;text-align:center">T</div>
<div class="t" style="left:571.25px;top:409.48px;width:11.7px;height:11.7px;border-radius:50%;background:#c6283a;color:#fff;font-family:'Liberation Serif',serif;font-weight:bold;font-size:8.3px;line-height:14.4px;text-align:center">T</div>
<div class="t" style="left:585.25px;top:383.05px;width:11.7px;height:11.7px;border-radius:50%;background:#2468c6;color:#fff;font-family:'Liberation Serif',serif;font-weight:bold;font-size:8.3px;line-height:14.4px;text-align:center">X</div>
<div class="t" style="left:585.25px;top:396.27px;width:11.7px;height:11.7px;border-radius:50%;background:#2468c6;color:#fff;font-family:'Liberation Serif',serif;font-weight:bold;font-size:8.3px;line-height:14.4px;text-align:center">X</div>
<div class="t" style="left:585.25px;top:409.48px;width:11.7px;height:11.7px;border-radius:50%;background:#2468c6;color:#fff;font-family:'Liberation Serif',serif;font-weight:bold;font-size:8.3px;line-height:14.4px;text-align:center">X</div>
<div class="t" style="left:585.25px;top:422.70px;width:11.7px;height:11.7px;border-radius:50%;background:#2468c6;color:#fff;font-family:'Liberation Serif',serif;font-weight:bold;font-size:8.3px;line-height:14.4px;text-align:center">X</div>
</div></body></html>
